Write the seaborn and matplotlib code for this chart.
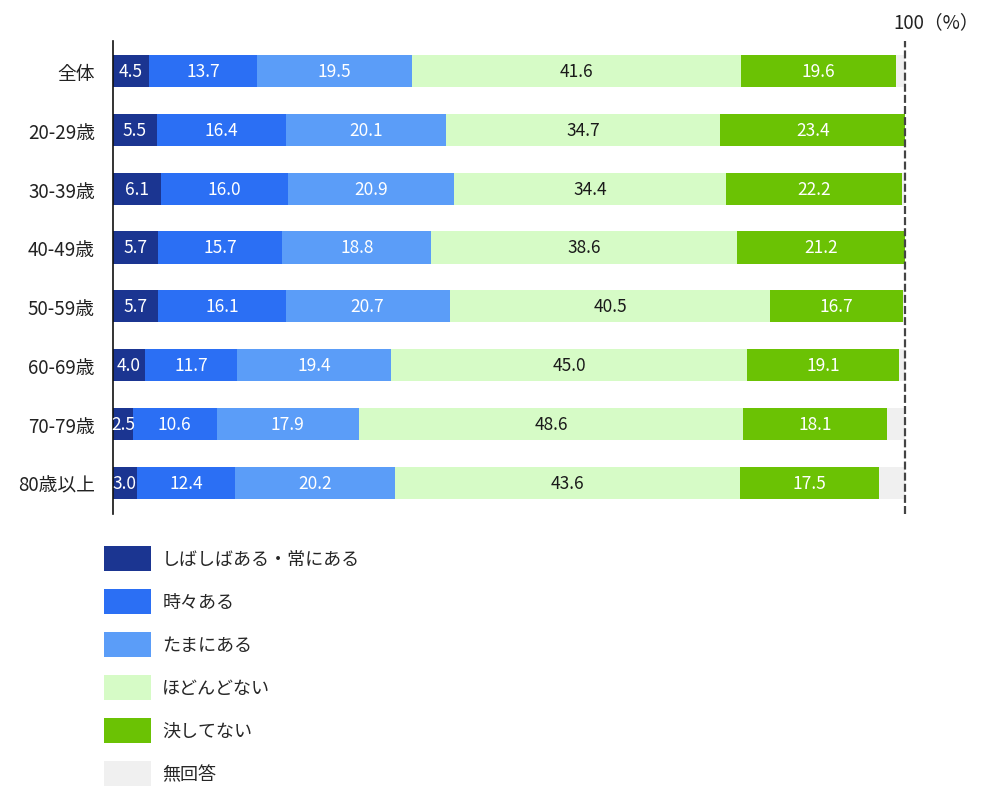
import matplotlib
matplotlib.use("Agg")
import matplotlib.pyplot as plt
import matplotlib.patches as mpatches
import matplotlib.transforms as mtransforms
import seaborn as sns
import pandas as pd

categories = ["全体", "20-29歳", "30-39歳", "40-49歳", "50-59歳", "60-69歳", "70-79歳", "80歳以上"]
series_names = ["しばしばある・常にある", "時々ある", "たまにある", "ほどんどない", "決してない", "無回答"]

often = [4.5, 5.5, 6.1, 5.7, 5.7, 4.0, 2.5, 3.0]
sometimes = [13.7, 16.4, 16.0, 15.7, 16.1, 11.7, 10.6, 12.4]
rarely = [19.5, 20.1, 20.9, 18.8, 20.7, 19.4, 17.9, 20.2]
hardly = [41.6, 34.7, 34.4, 38.6, 40.5, 45.0, 48.6, 43.6]
never = [19.6, 23.4, 22.2, 21.2, 16.7, 19.1, 18.1, 17.5]
no_answer = [1.1, 0.0, 0.4, 0.0, 0.3, 0.8, 2.3, 3.3]

colors = ["#1b3591", "#2b6ff4", "#5b9df8", "#d6fbc6", "#6bc204", "#f0f0f0"]
label_colors = ["white", "white", "white", "#1a1a1a", "white", None]

sns.set_style("white")
plt.rcParams["font.family"] = ["Noto Sans CJK JP", "DejaVu Sans"]

df = pd.DataFrame({"category": categories})
values = [often, sometimes, rarely, hardly, never, no_answer]
for name, vals in zip(series_names, values):
    df[name] = vals
cum = df[series_names].cumsum(axis=1)

fig = plt.figure(figsize=(10, 8.12), dpi=100)
ax = fig.add_axes([0.113, 1 - 515 / 812, 0.905 - 0.113, (515 - 42) / 812])

# stacked bars: draw cumulative totals from the back to the front
for i in range(len(series_names) - 1, -1, -1):
    right = cum[series_names[i]].clip(upper=100)
    sns.barplot(x=right.values, y=df["category"], color=colors[i], orient="h",
                width=0.545, saturation=1, ax=ax, linewidth=0)

for i, name in enumerate(series_names[:-1]):
    centers = cum[name] - df[name] / 2
    for j, (c, v) in enumerate(zip(centers, df[name])):
        ax.text(c, j, f"{v:.1f}", ha="center", va="center", fontsize=12.5,
                color=label_colors[i])

ax.set_xlim(0, 100)
ax.set_ylim(7.53, -0.51)
ax.set_xlabel("")
ax.set_ylabel("")
ax.set_xticks([])
ax.tick_params(axis="y", length=0, labelsize=13.5, labelcolor="#222222", pad=13)
for s in ["top", "right", "bottom"]:
    ax.spines[s].set_visible(False)
ax.spines["left"].set_color("#111111")
ax.spines["left"].set_linewidth(1.2)

ax.axvline(100, color="#444444", linestyle=(0, (3.6, 1.4)), linewidth=1.6, clip_on=False)
trans = mtransforms.blended_transform_factory(ax.transData, ax.transAxes)
ax.text(98.5, 1.04, "100（%）", transform=trans, ha="left", va="center",
        fontsize=13.5, color="#222222")

handles = [mpatches.Patch(facecolor=c, edgecolor="none") for c in colors]
fig.legend(handles, series_names, loc="upper left",
           bbox_to_anchor=(0.104, 1 - 547 / 812), frameon=False,
           fontsize=13, handlelength=2.6, handleheight=1.76,
           handletextpad=0.62, labelspacing=0.99, borderpad=0, borderaxespad=0)

plt.savefig("out.png", dpi=100)
